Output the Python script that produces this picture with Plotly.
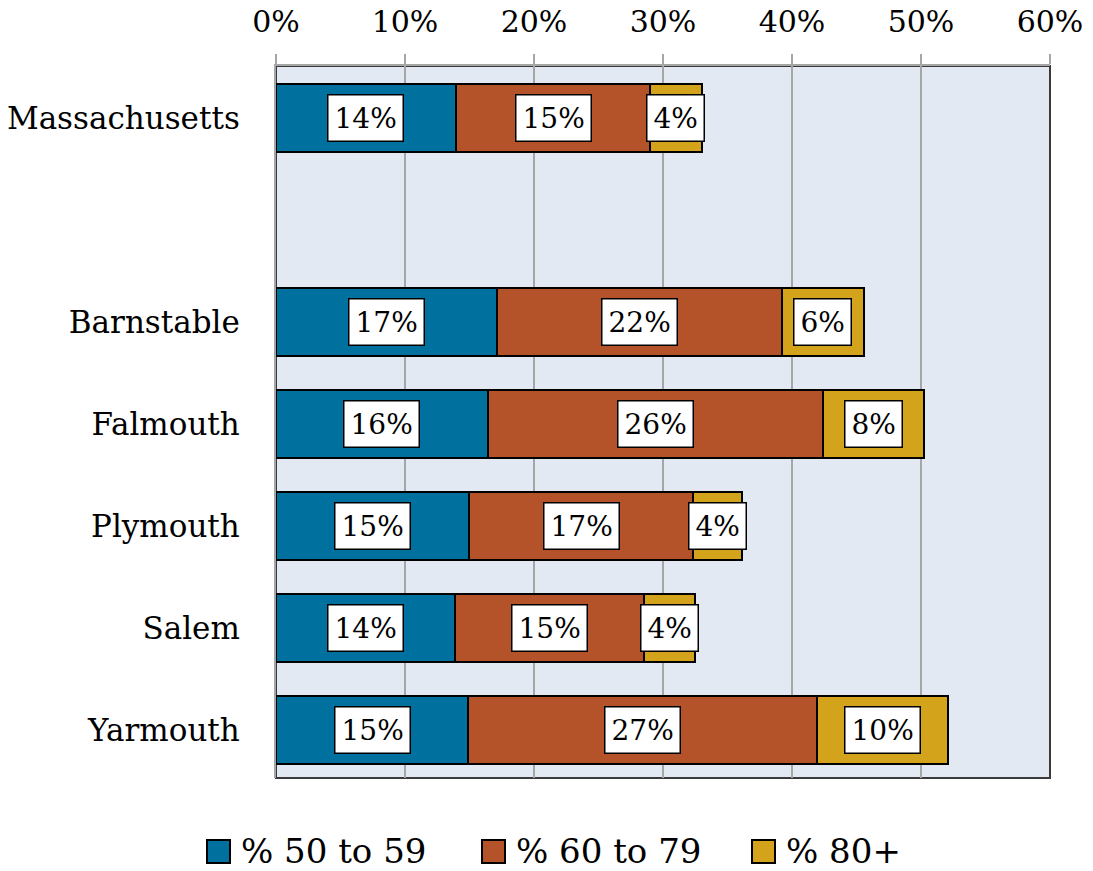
import plotly.graph_objects as go

categories = ["Massachusetts", "Barnstable", "Falmouth", "Plymouth", "Salem", "Yarmouth"]
pct_50_59 = [13.95, 17.1, 16.4, 14.96, 13.9, 14.9]
pct_60_79 = [15.05, 22.1, 26.0, 17.4, 14.6, 27.0]
pct_80_plus = [4.0, 6.35, 7.8, 3.8, 3.95, 10.2]
series_names = ["% 50 to 59", "% 60 to 79", "% 80+"]
colors = ["#00709E", "#B4532A", "#D4A31C"]
x_ticks = [0, 10, 20, 30, 40, 50, 60]
x_ticklabels = [f"{t}%" for t in x_ticks]

# vertical positions: gap after the statewide bar
n = len(categories)
y_pos = [n] + [n - 2 - i for i in range(n - 1)]

FONT = "DejaVu Serif"
W, H = 1093, 871
ML, MR, MT, MB = 276, 43, 66, 93
PW, PH = W - ML - MR, H - MT - MB


def px_x(px):
    return (px - ML) / PW


def px_y(py):
    return (H - MB - py) / PH


fig = go.Figure()

series = [pct_50_59, pct_60_79, pct_80_plus]
bases = [[0] * n]
for s in series[:-1]:
    bases.append([b + v for b, v in zip(bases[-1], s)])

for name, vals, base, col in zip(series_names, series, bases, colors):
    fig.add_trace(go.Bar(
        x=vals, y=y_pos, base=base, orientation="h", width=0.67,
        marker=dict(color=col, line=dict(color="black", width=2)),
        showlegend=False, name=name, hoverinfo="skip",
    ))
    for v, b, yp in zip(vals, base, y_pos):
        fig.add_annotation(
            x=b + v / 2, y=yp, xref="x", yref="y", text=f"{round(v)}%",
            showarrow=False, font=dict(family=FONT, size=28, color="black"),
            bgcolor="white", bordercolor="black", borderwidth=1.5, borderpad=6,
        )

# legend drawn below the plot (squares + labels)
legend_left_px = [207, 482, 752]
for name, col, lx in zip(series_names, colors, legend_left_px):
    fig.add_shape(type="rect", xref="paper", yref="paper",
                  x0=px_x(lx), x1=px_x(lx + 23), y0=px_y(840), y1=px_y(863),
                  fillcolor=col, line=dict(color="black", width=2))
    fig.add_annotation(x=px_x(lx + 32), y=px_y(851), xref="paper", yref="paper",
                       text=name, showarrow=False, xanchor="left", yanchor="middle",
                       font=dict(family=FONT, size=34, color="black"))

fig.add_shape(type="rect", xref="paper", yref="paper", x0=0, x1=1, y0=0, y1=1,
              line=dict(color="#3a3a3a", width=2), layer="below")

fig.update_layout(
    width=W, height=H,
    margin=dict(l=ML, r=MR, t=MT, b=MB),
    paper_bgcolor="white", plot_bgcolor="#E2E9F3",
    barmode="overlay", bargap=0, showlegend=False,
    font=dict(family=FONT, color="black"),
    xaxis=dict(
        range=[0, 60], side="top", tickvals=x_ticks, ticktext=x_ticklabels,
        showgrid=True, gridcolor="#A6A6A6", gridwidth=1.5,
        showline=True, linecolor="#A6A6A6", linewidth=2,
        ticks="outside", ticklen=10, tickcolor="#A6A6A6", tickwidth=2,
        tickfont=dict(family=FONT, size=30, color="black"),
        ticklabelstandoff=10, zeroline=False, fixedrange=True, automargin=False,
    ),
    yaxis=dict(
        range=[-0.47, n + 0.51], tickvals=y_pos, ticktext=categories,
        showgrid=False, zeroline=False,
        showline=True, linecolor="#A6A6A6", linewidth=2,
        ticks="", tickfont=dict(family=FONT, size=31, color="black"),
        ticklabelstandoff=28, fixedrange=True, automargin=False,
    ),
)

fig.write_html(
    "out.html",
    config={"displayModeBar": False},
    post_script="document.body.style.margin='0px';document.body.style.overflow='hidden';",
)
